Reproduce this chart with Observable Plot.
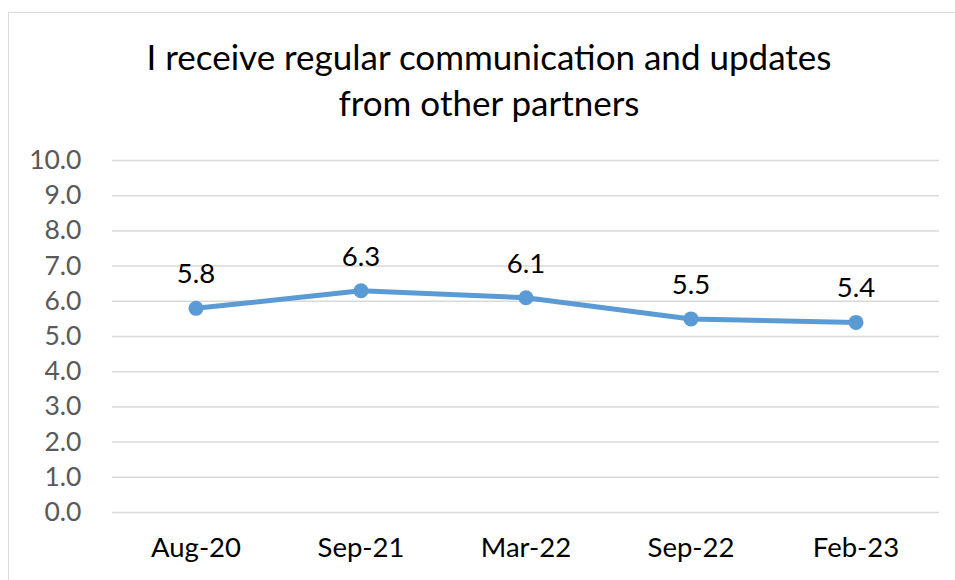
<!DOCTYPE html>
<html>
<head>
<meta charset="utf-8">
<script src="https://cdn.jsdelivr.net/npm/d3@7"></script>
<script src="https://cdn.jsdelivr.net/npm/@observablehq/plot@0.6"></script>
<style>
  html, body { margin: 0; padding: 0; background: #fff; overflow: hidden; }
  #wrap { position: relative; width: 955px; height: 580px; overflow: hidden; }
  #border { position: absolute; left: 8px; top: 12px; width: 960px; height: 600px; border: 1px solid #d9d9d9; box-sizing: border-box; }
  #chart { position: absolute; left: 0; top: 0; }
</style>
</head>
<body>
<div id="wrap">
  <div id="border"></div>
  <div id="chart"></div>
</div>
<script>
const titleText = "I receive regular communication and updates\nfrom other partners";
const periods = ["Aug-20", "Sep-21", "Mar-22", "Sep-22", "Feb-23"];
const scores = [5.8, 6.3, 6.1, 5.5, 5.4];
const yTicks = [0, 1, 2, 3, 4, 5, 6, 7, 8, 9, 10];

const data = periods.map((p, i) => ({period: p, score: scores[i]}));
const font = "Lato, 'Open Sans', sans-serif";

const chart = Plot.plot({
  width: 955,
  height: 580,
  marginLeft: 112,
  marginRight: 16,
  marginTop: 160,
  marginBottom: 68,
  style: {fontFamily: font, background: "transparent", overflow: "visible"},
  x: {type: "band", domain: periods, padding: 0, label: null},
  y: {domain: [0, 10], label: null},
  marks: [
    Plot.gridY(yTicks, {stroke: "#d9d9d9", strokeOpacity: 1, strokeWidth: 1.5}),
    Plot.axisY(yTicks, {tickSize: 0, tickPadding: 31, tickFormat: d3.format(".1f"), fontSize: 26.5, fill: "#595959", label: null}),
    Plot.axisX({tickSize: 0, tickPadding: 25, fontSize: 27.5, fill: "#000", lineAnchor: "top", label: null}),
    Plot.line(data, {x: "period", y: "score", stroke: "#5B9BD5", strokeWidth: 5, strokeLinejoin: "round", strokeLinecap: "round"}),
    Plot.dot(data, {x: "period", y: "score", r: 7.5, fill: "#5B9BD5", stroke: "none"}),
    Plot.text(data, {x: "period", y: "score", text: d => d.score.toFixed(1), dy: -34, fontSize: 27.5, fill: "#000"}),
    Plot.text([titleText], {frameAnchor: "top", text: d => d, dx: -37, dy: -82, lineAnchor: "middle", lineHeight: 1.29, fontSize: 35, fill: "#000"})
  ]
});
document.getElementById("chart").appendChild(chart);
</script>
</body>
</html>
